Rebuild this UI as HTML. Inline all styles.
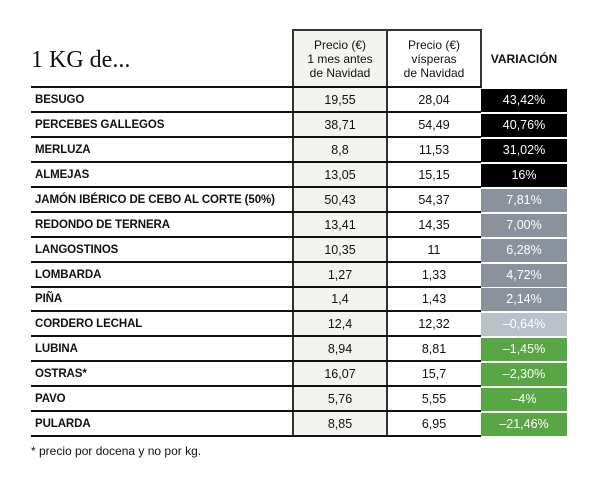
<!DOCTYPE html>
<html><head><meta charset="utf-8"><style>
body{margin:0;width:600px;height:481px;background:#fff;position:relative;font-family:"Liberation Sans",sans-serif;overflow:hidden}
.a{position:absolute}
.t{left:31px;top:47px;font-family:"Liberation Serif",serif;font-size:24px;color:#111}
.h{font-size:12px;text-align:center;line-height:14px;color:#111}
.r{position:absolute;left:31px;width:450px;height:25px;border-bottom:2px solid #111;box-sizing:border-box}
.n{position:absolute;left:4px;top:6px;font-size:11.5px;font-weight:bold;color:#111;letter-spacing:-0.1px}
.c1,.c2{position:absolute;top:5px;width:94px;text-align:center;font-size:12.5px;color:#111}
.c1{left:262px}.c2{left:356px}
.v{position:absolute;left:481px;width:86px;height:23px;color:#fff;font-size:12.5px;text-align:center;line-height:23px}
</style></head><body>
<div class="a t">1 KG de...</div>
<div class="a" style="left:293px;top:29px;width:94px;height:408px;background:#f3f3ef"></div>
<div class="a" style="left:293px;top:29px;width:188px;border-top:2px solid #333"></div>
<div class="a" style="left:292px;top:29px;width:2px;height:408px;background:#333"></div>
<div class="a" style="left:386px;top:29px;width:2px;height:408px;background:#333"></div>
<div class="a" style="left:480px;top:29px;width:2px;height:59px;background:#333"></div>
<div class="a h" style="left:293px;top:38px;width:94px">Precio (€)<br>1 mes antes<br>de Navidad</div>
<div class="a h" style="left:387px;top:38px;width:94px">Precio (€)<br>vísperas<br>de Navidad</div>
<div class="a" style="left:481px;top:52px;width:86px;text-align:center;font-size:12px;font-weight:bold;color:#111">VARIACIÓN</div>
<div class="r" style="top:63px"></div>
<div id="rows"></div>
<script>
var d=[["BESUGO","19,55","28,04","43,42%","#000"],["PERCEBES GALLEGOS","38,71","54,49","40,76%","#000"],["MERLUZA","8,8","11,53","31,02%","#000"],["ALMEJAS","13,05","15,15","16%","#000"],["JAMÓN IBÉRICO DE CEBO AL CORTE (50%)","50,43","54,37","7,81%","#8a939d"],["REDONDO DE TERNERA","13,41","14,35","7,00%","#8a939d"],["LANGOSTINOS","10,35","11","6,28%","#8a939d"],["LOMBARDA","1,27","1,33","4,72%","#8a939d"],["PIÑA","1,4","1,43","2,14%","#8a939d"],["CORDERO LECHAL","12,4","12,32","–0,64%","#b9c0c7"],["LUBINA","8,94","8,81","–1,45%","#59a744"],["OSTRAS*","16,07","15,7","–2,30%","#59a744"],["PAVO","5,76","5,55","–4%","#59a744"],["PULARDA","8,85","6,95","–21,46%","#59a744"]];
var h="";d.forEach(function(r,i){var y=88+i*24.93;
h+='<div class="r" style="top:'+y+'px"><span class="n">'+r[0]+'</span><span class="c1">'+r[1]+'</span><span class="c2">'+r[2]+'</span></div><div class="v" style="top:'+(y+1)+'px;background:'+r[4]+'">'+r[3]+'</div>';});
document.getElementById("rows").innerHTML=h;
</script>
<div class="a" style="left:31px;top:444px;font-size:12px;color:#111">* precio por docena y no por kg.</div>
</body></html>
